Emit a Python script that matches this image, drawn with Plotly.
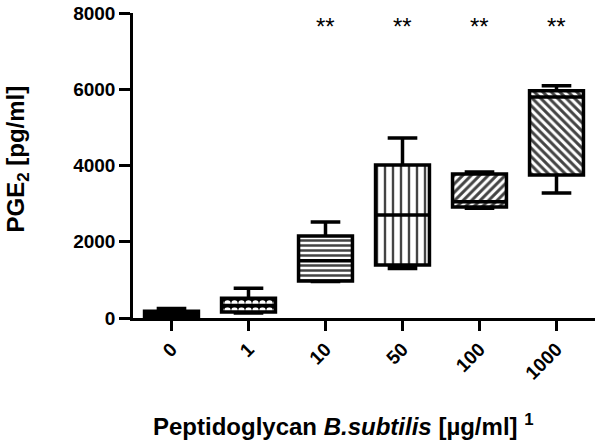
import plotly.graph_objects as go

# concentrations of peptidoglycan (ug/ml)
doses = ["0", "1", "10", "50", "100", "1000"]

# PGE2 box statistics (pg/ml)
q_min = [30, 130, 960, 1300, 2880, 3280]
q1 = [40, 160, 970, 1390, 2910, 3750]
median = [110, 330, 1500, 2700, 3050, 5800]
q3 = [180, 520, 2150, 4010, 3780, 5960]
q_max = [250, 780, 2520, 4720, 3830, 6090]

signif = ["", "", "**", "**", "**", "**"]

font_name = "Arial, Liberation Sans, sans-serif"

fig = go.Figure()

# patterned fills for the boxes
fig.add_trace(go.Bar(
    x=doses,
    y=[b - a for a, b in zip(q1, q3)],
    base=q1,
    width=0.7,
    marker=dict(
        color=["black", "black", "white", "white", "white", "white"],
        line=dict(width=0),
        pattern=dict(
            shape=["", ".", "-", "|", "/", "\\"],
            fgcolor=["black", "white", "black", "black", "black", "black"],
            bgcolor=["black", "black", "white", "white", "white", "white"],
            fgopacity=1,
            size=[8, 7, 5, 8, 6, 6],
            solidity=[0.3, 0.65, 0.5, 0.3, 0.5, 0.5],
        ),
    ),
    hoverinfo="skip",
    showlegend=False,
))

# box outlines, medians and whiskers
fig.add_trace(go.Box(
    x=doses,
    q1=q1,
    median=median,
    q3=q3,
    lowerfence=q_min,
    upperfence=q_max,
    width=0.7,
    whiskerwidth=0.55,
    fillcolor="rgba(0,0,0,0)",
    line=dict(color="black", width=3.5),
    showlegend=False,
))

# significance marks (category index used for x)
for i, s in enumerate(signif):
    if s:
        fig.add_annotation(x=i, y=7650, text=s, showarrow=False,
                           font=dict(size=24, color="black", family=font_name))

fig.add_annotation(
    xref="paper", yref="paper", x=0.455, y=-0.405, xanchor="center",
    text="<b>Peptidoglycan <i>B.subtilis</i> [µg/ml] <sup>1</sup></b>",
    showarrow=False, font=dict(size=24, color="black", family=font_name),
)
fig.add_annotation(
    xref="paper", yref="paper", x=-0.251, y=0.52, textangle=-90,
    xanchor="center", yanchor="middle",
    text="<b>PGE<sub>2</sub> [pg/ml]</b>",
    showarrow=False, font=dict(size=24, color="black", family=font_name),
)

fig.update_layout(
    width=600, height=443,
    margin=dict(l=133, r=5, t=13, b=125),
    paper_bgcolor="white", plot_bgcolor="white",
    font=dict(family=font_name, color="black"),
    xaxis=dict(
        type="category", range=[-0.5, 5.5], automargin=False,
        showline=True, linewidth=2.5, linecolor="black",
        ticks="outside", ticklen=10, tickwidth=2.5, tickcolor="black",
        tickangle=-45, tickfont=dict(size=19, family=font_name, weight="bold"),
        showgrid=False, zeroline=False,
    ),
    yaxis=dict(
        range=[0, 8000], tickvals=[0, 2000, 4000, 6000, 8000], automargin=False,
        showline=True, linewidth=2.5, linecolor="black",
        ticks="outside", ticklen=11, tickwidth=2.5, tickcolor="black",
        tickfont=dict(size=19, family=font_name, weight="bold"),
        showgrid=False, zeroline=False,
    ),
)

# page has a default body margin; remove it so the figure sits at the top-left corner
fig.write_html("out.html", config={"displayModeBar": False},
               post_script="document.body.style.margin='0';")
